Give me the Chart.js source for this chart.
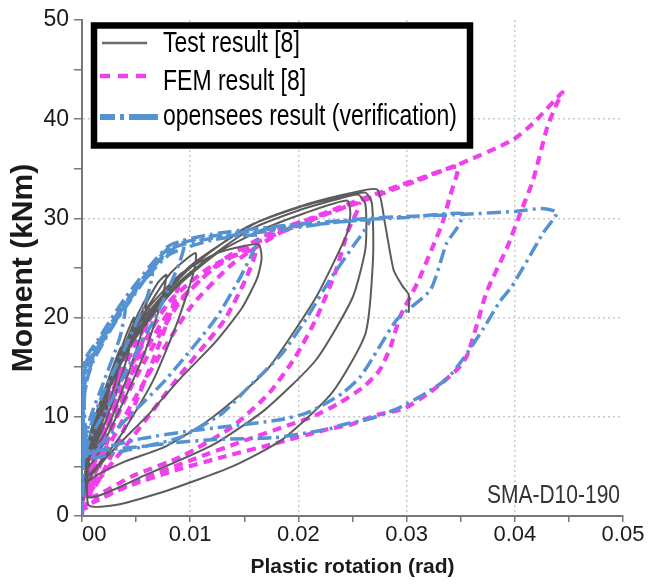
<!DOCTYPE html>
<html>
<head>
<meta charset="utf-8">
<script src="https://cdn.jsdelivr.net/npm/chart.js@4"></script>
<style>
html,body{margin:0;padding:0;background:#ffffff;}
canvas{display:block;}
</style>
</head>
<body>
<canvas id="chart" width="660" height="584" style="width:660px;height:584px"></canvas>
<script>
// ---------- data ----------
const seriesNames = ['Test result [8]', 'FEM result [8]', 'opensees result (verification)'];
const xTickValues = [0, 0.005, 0.01, 0.015, 0.02, 0.025, 0.03, 0.035, 0.04, 0.045, 0.05];
const xTickLabels = ['00', '', '0.01', '', '0.02', '', '0.03', '', '0.04', '', '0.05'];
const yTickValues = [0, 5, 10, 15, 20, 25, 30, 35, 40, 45, 50];
const yTickLabels = ['0', '', '10', '', '20', '', '30', '', '40', '', '50'];
const specimenLabel = 'SMA-D10-190';

// Test result [8]  [plastic rotation (rad), moment (kNm)]
const testCurve = [
  [0,0],[0.0002,3],[0.0005,7],[0.0012,10],[0.0022,13],[0.0026,14],[0.0022,11],[0.0012,7.5],[0.0005,5.5],
  [0.0012,9.5],[0.0022,13],[0.0032,16],[0.0036,17],[0.0031,13.5],[0.0019,9.5],[0.0009,6.5],
  [0.0016,10],[0.0028,14],[0.004,18],[0.0048,20],[0.0043,16.5],[0.003,12],[0.0016,8],[0.0007,6],
  [0.0018,10.5],[0.0032,15],[0.0048,19.5],[0.006,22],[0.0055,18.5],[0.004,13.5],[0.0022,8.5],[0.001,6.5],
  [0.002,11],[0.0036,16],[0.0055,20.5],[0.007,23.5],[0.0078,24.3],[0.0073,21.5],[0.0058,16.5],[0.0036,11],[0.0016,6.5],[0.0006,5],
  [0.0014,9.5],[0.003,14.5],[0.0055,20],[0.0082,24.5],[0.0105,26.5],[0.0103,24.5],[0.0088,19.5],[0.0065,13.5],[0.0035,8],[0.0012,4.8],[0.0004,4],
  [0.001,8.5],[0.0028,14.5],[0.0058,20.5],[0.009,24.3],[0.0125,26.5],[0.0163,27.4],[0.0166,26],[0.0162,24],[0.0148,21],[0.0123,17.5],[0.0092,14],[0.0062,10.3],[0.0032,7],[0.001,4.3],[0.0003,3],
  [0.0007,6.5],[0.002,11.5],[0.0045,17.2],[0.0085,22.8],[0.0125,26.5],[0.0165,28.8],[0.0205,30.5],[0.0245,31.8],[0.0248,30.5],[0.0245,28.5],[0.0216,22],[0.0173,15],[0.0148,12.4],[0.0115,9.5],[0.0077,7],[0.004,5.5],[0.0015,4.2],[0.0004,3.5],
  [0.0006,7],[0.002,12],[0.0046,17.7],[0.0092,23.8],[0.0154,28.8],[0.02,30.8],[0.0235,31.9],[0.0255,32.4],[0.0262,31.4],[0.0262,27],[0.025,22],[0.0216,15.7],[0.0169,10.7],[0.0123,7.3],[0.0062,4.3],[0.0006,1.9],
  [0.0007,7.5],[0.0022,12.8],[0.0048,18.3],[0.0095,24.5],[0.015,29],[0.02,31.1],[0.024,32.2],[0.0262,32.6],[0.0268,31.5],[0.0269,26],[0.0262,18.4],[0.0231,12.4],[0.0185,7.7],[0.0139,5],[0.0077,2.5],[0.0031,1.1],[0.0006,1.1],
  [0.0006,6],[0.0008,8],[0.0024,13.5],[0.005,19],[0.01,25.2],[0.016,29.5],[0.021,31.5],[0.025,32.6],[0.0273,32.9],[0.028,29.5],[0.0288,24.8],[0.0296,23.2],[0.0302,22.3],[0.0302,20.5]
];

// FEM result [8]
const femCurve = [
  [0,0],[0.0002,3],[0.001,7],[0.002,10.5],[0.003,13.5],[0.0035,14.5],[0.003,12],[0.0018,7.5],[0.0006,3.5],[0.0002,2],
  [0.001,6.5],[0.0025,11.5],[0.004,16],[0.0058,20.5],[0.0062,21],[0.0057,18],[0.004,12.5],[0.002,6.5],[0.0005,2.5],
  [0.0015,7.5],[0.003,12.5],[0.005,17.5],[0.0075,22],[0.009,24],[0.0085,21.5],[0.0065,15.5],[0.004,9],[0.0015,3.5],[0.0003,1.8],
  [0.0015,7],[0.004,14],[0.008,21.5],[0.012,25.2],[0.016,26.8],[0.0151,23.8],[0.0132,19.8],[0.0117,17.7],[0.0092,14.4],[0.0068,11],[0.004,7],[0.0015,3.6],[0.0003,1.8],
  [0.0015,6.5],[0.004,13],[0.008,20.5],[0.012,24.8],[0.016,27.5],[0.02,29.3],[0.0256,31.5],[0.0246,28.8],[0.0234,24.5],[0.0216,19.8],[0.0197,16],[0.0173,12.4],[0.0139,9],[0.0092,6],[0.0046,4],[0.0009,2],
  [0.002,7],[0.005,14],[0.009,21.5],[0.013,25.8],[0.018,28.8],[0.0235,30.8],[0.0275,32.4],[0.031,33.8],[0.0347,35.2],[0.034,32.2],[0.0333,29.5],[0.0324,27.1],[0.031,23.5],[0.0294,20.1],[0.0285,17],[0.0275,14.7],[0.026,13],[0.0238,11.4],[0.0213,10],[0.0192,9.2],[0.015,7.6],[0.01,5.6],[0.005,3.5],[0.0015,1.8],[0.0003,0.8],
  [0.002,6],[0.006,14],[0.01,21],[0.014,25.5],[0.019,29],[0.024,31.2],[0.0275,32.6],[0.0347,35.4],[0.0398,37.9],[0.0417,39.6],[0.0444,42.7],[0.0439,41.6],[0.043,39.2],[0.0417,33.9],[0.0405,30.5],[0.0393,27.1],[0.0374,22.6],[0.0365,19.3],[0.0356,16.2],[0.0347,14.8],[0.0322,12.5],[0.0297,10.8],[0.0273,10.2],[0.0248,9.2],[0.0229,8.8],[0.0178,7.3],[0.0132,6],[0.0086,4.6],[0.004,2.9],[0.0009,1.3]
];

// opensees result (verification)
const openseesCurve = [
  [0,0],[0.0001,8],[0.0003,13],[0.001,15.5],[0.0025,18.5],[0.004,21],[0.0035,18],[0.002,13.5],[0.0008,10],[0.0002,7],[0.0001,6],
  [0.0002,12],[0.001,15.8],[0.003,19.5],[0.0055,23.5],[0.0065,24.5],[0.006,22],[0.004,17],[0.002,12.5],[0.0006,8.5],[0.0001,6.2],
  [0.0002,13],[0.0012,16.5],[0.0035,20.5],[0.006,24.5],[0.0086,27.1],[0.0095,27.6],[0.009,25.5],[0.007,20.5],[0.0045,15.5],[0.0024,11],[0.0008,8],[0.0001,6],
  [0.0002,14],[0.0012,16.8],[0.004,21.5],[0.008,26.3],[0.012,27.8],[0.0163,28.3],[0.016,27.1],[0.0145,23.8],[0.0123,19.8],[0.0077,13.7],[0.0046,10.3],[0.0015,7],[0.0002,6],
  [0.0002,14.5],[0.0015,17],[0.004,21],[0.008,26.8],[0.012,28],[0.018,28.8],[0.0265,29.8],[0.025,27.1],[0.0229,23.8],[0.0208,20],[0.0185,16.4],[0.0154,13],[0.0129,10.3],[0.009,7.9],[0.004,6.6],[0.0005,6],
  [0.0002,15],[0.0015,17.5],[0.004,21.5],[0.008,27],[0.012,28.2],[0.018,29],[0.0265,29.9],[0.03,30.1],[0.0352,30.5],[0.0347,29.1],[0.0337,27.5],[0.0322,22.8],[0.0291,19.8],[0.0273,16.7],[0.0257,14],[0.0241,12.4],[0.0226,11.4],[0.0208,10.4],[0.0183,9.7],[0.0132,9],[0.0095,8.5],[0.0055,7.8],[0.0024,7],[0.0006,6.4],
  [0.0002,15.5],[0.0015,17.8],[0.004,22],[0.008,27.2],[0.012,28.4],[0.018,29.2],[0.0265,30],[0.03,30.2],[0.035,30.4],[0.04,30.7],[0.0425,31],[0.0439,30.6],[0.0426,28.5],[0.0408,25.1],[0.0397,23.1],[0.0386,21.6],[0.0371,18.9],[0.0352,15.8],[0.0337,13.8],[0.0315,12.2],[0.0291,10.8],[0.0266,9.8],[0.0241,9.2],[0.0229,8.8],[0.0209,8.4],[0.0178,7.9],[0.0123,7.7],[0.0086,7.4],[0.0055,7],[0.0024,6.7],[0.0003,6.4],[0.0001,3],[0,0]
];

// ---------- styles ----------
const FONT = "'Liberation Sans', Arial, Helvetica, sans-serif";
const testColor = '#5c5c5c';
const femColor = '#f040ee';
const osColor = '#5592d2';

const toPoints = arr => arr.map(p => ({x: p[0], y: p[1]}));

const legendBoxPlugin = {
  id: 'legendBox',
  afterDatasetsDraw(chart) {
    const c = chart.ctx;
    c.save();
    c.fillStyle = '#ffffff';
    c.fillRect(94, 25.5, 376, 120);
    c.lineWidth = 6.5;
    c.strokeStyle = '#000000';
    c.setLineDash([]);
    c.strokeRect(94, 25.5, 376, 120);
    const rows = [
      {ly: 43, x1: 102, x2: 147, color: '#6a6a6a', width: 2.5, dash: [], ty: 44},
      {ly: 76, x1: 100, x2: 152, color: femColor, width: 4.5, dash: [10, 8], ty: 82},
      {ly: 117, x1: 100, x2: 158, color: osColor, width: 6, dash: [15, 5, 4, 5, 30], ty: 117}
    ];
    rows.forEach((r, i) => {
      c.beginPath();
      c.setLineDash(r.dash);
      c.lineWidth = r.width;
      c.strokeStyle = r.color;
      c.lineCap = 'butt';
      c.moveTo(r.x1, r.ly);
      c.lineTo(r.x2, r.ly);
      c.stroke();
      c.setLineDash([]);
      c.save();
      c.translate(163, r.ty);
      c.scale(1, 1.28);
      c.font = '23px ' + FONT;
      c.fillStyle = '#000000';
      c.textBaseline = 'middle';
      c.textAlign = 'left';
      c.fillText(seriesNames[i], 0, 0);
      c.restore();
    });
    // specimen label
    c.save();
    c.translate(620, 496);
    c.scale(1, 1.25);
    c.font = '21px ' + FONT;
    c.fillStyle = '#333333';
    c.textBaseline = 'middle';
    c.textAlign = 'right';
    c.fillText(specimenLabel, 0, 0);
    c.restore();
    c.restore();
  }
};

const gridColorFor = (labels) => (ctx) => {
  const i = ctx.index;
  if (i === 0 || i === labels.length - 1) return 'rgba(0,0,0,0)';
  return labels[i] ? '#c9c9c9' : 'rgba(0,0,0,0)';
};

new Chart(document.getElementById('chart'), {
  type: 'scatter',
  data: {
    datasets: [
      {label: seriesNames[2], data: toPoints(openseesCurve), showLine: true, borderColor: osColor, borderWidth: 3.5,
       borderDash: [14, 5, 3, 5], pointRadius: 0, tension: 0.2, fill: false, order: 0},
      {label: seriesNames[0], data: toPoints(testCurve), showLine: true, borderColor: testColor, borderWidth: 2,
       pointRadius: 0, tension: 0.2, fill: false, order: 1},
      {label: seriesNames[1], data: toPoints(femCurve), showLine: true, borderColor: femColor, borderWidth: 4.2,
       borderDash: [9, 6], pointRadius: 0, tension: 0.2, fill: false, order: 2}
    ]
  },
  options: {
    responsive: false,
    animation: false,
    devicePixelRatio: 1,
    layout: {padding: {left: 0, right: 37, top: 20, bottom: 0}},
    plugins: {legend: {display: false}, tooltip: {enabled: false}},
    scales: {
      x: {
        type: 'linear', min: 0, max: 0.05,
        afterBuildTicks: s => { s.ticks = xTickValues.map(v => ({value: v})); },
        afterFit: s => { s.height = 68; },
        ticks: {
          autoSkip: false, maxRotation: 0, minRotation: 0, padding: 0, color: '#1a1a1a',
          font: {family: FONT, size: 22},
          callback: (v, i) => (i === 0 ? '    ' + xTickLabels[i] : xTickLabels[i])
        },
        grid: {color: gridColorFor(xTickLabels), lineWidth: 1.5, tickLength: 6, tickColor: '#777777', tickWidth: 1.5},
        border: {color: '#777777', width: 2, dash: [2, 3]},
        title: {display: true, text: 'Plastic rotation (rad)', color: '#1a1a1a',
                font: {family: FONT, size: 21, weight: 'bold'}, padding: {top: 0, bottom: 4}}
      },
      y: {
        type: 'linear', min: 0, max: 50,
        afterBuildTicks: s => { s.ticks = yTickValues.map(v => ({value: v})); },
        afterFit: s => { s.width = 82; },
        ticks: {
          autoSkip: false, padding: 5, color: '#1a1a1a',
          font: {family: FONT, size: 23},
          callback: (v, i) => yTickLabels[i]
        },
        grid: {color: gridColorFor(yTickLabels), lineWidth: 1.5, tickLength: 8, tickColor: '#777777', tickWidth: 1.5},
        border: {color: '#777777', width: 2, dash: [2, 3]},
        title: {display: true, text: 'Moment (kNm)', color: '#1a1a1a',
                font: {family: FONT, size: 30, weight: 'bold'}, padding: {top: 6, bottom: 0}}
      }
    }
  },
  plugins: [legendBoxPlugin]
});
</script>
</body>
</html>
